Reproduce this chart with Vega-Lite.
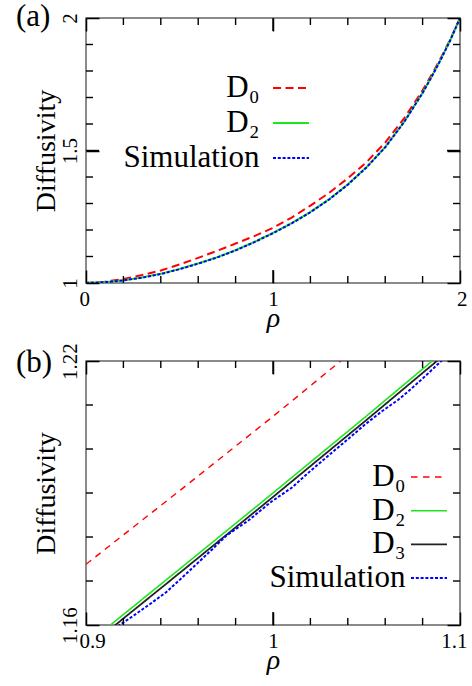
{
  "$schema": "https://vega.github.io/schema/vega-lite/v6.json",
  "background": "white",
  "padding": {"left": 15, "top": 0, "right": 0, "bottom": 0},
  "spacing": 8,
  "config": {
    "font": "Liberation Serif",
    "view": {"stroke": "#666666", "strokeWidth": 1.5},
    "axis": {
      "domain": false, "grid": false,
      "labelFont": "Liberation Serif", "labelFontSize": 21, "labelColor": "#000000",
      "titleFont": "Liberation Serif", "titleFontWeight": "normal", "titleColor": "#000000",
      "tickColor": "#000000", "tickWidth": 1.5,
      "labelFlush": true, "labelFlushOffset": 7, "labelOverlap": false
    },
    "legend": {
      "labelFont": "Liberation Serif", "labelFontSize": 31, "labelColor": "#000000",
      "labelAlign": "right", "labelLimit": 300,
      "symbolType": "M-3,0H3", "symbolSize": 144, "symbolStrokeWidth": 2,
      "padding": 0
    }
  },
  "vconcat": [
    {
      "width": 374, "height": 265,
      "title": {"text": "(a)", "anchor": "start", "frame": "group", "offset": -20.5, "dx": -70, "fontSize": 31, "fontWeight": "normal", "font": "Liberation Serif", "color": "#000000"},
      "data": {"values": [
        {"series": "D₀", "rho": 0, "D": 1.000}, {"series": "D₀", "rho": 0.1, "D": 1.005}, {"series": "D₀", "rho": 0.2, "D": 1.015},
        {"series": "D₀", "rho": 0.3, "D": 1.030}, {"series": "D₀", "rho": 0.4, "D": 1.047}, {"series": "D₀", "rho": 0.5, "D": 1.070},
        {"series": "D₀", "rho": 0.6, "D": 1.095}, {"series": "D₀", "rho": 0.7, "D": 1.121}, {"series": "D₀", "rho": 0.8, "D": 1.149},
        {"series": "D₀", "rho": 0.9, "D": 1.177}, {"series": "D₀", "rho": 1.0, "D": 1.208}, {"series": "D₀", "rho": 1.1, "D": 1.247},
        {"series": "D₀", "rho": 1.2, "D": 1.292}, {"series": "D₀", "rho": 1.3, "D": 1.340}, {"series": "D₀", "rho": 1.4, "D": 1.395},
        {"series": "D₀", "rho": 1.5, "D": 1.456}, {"series": "D₀", "rho": 1.6, "D": 1.530}, {"series": "D₀", "rho": 1.7, "D": 1.620},
        {"series": "D₀", "rho": 1.8, "D": 1.727}, {"series": "D₀", "rho": 1.85, "D": 1.788}, {"series": "D₀", "rho": 1.9, "D": 1.853},
        {"series": "D₀", "rho": 1.95, "D": 1.922}, {"series": "D₀", "rho": 2.0, "D": 2.000},
        {"series": "D₂", "rho": 0, "D": 1.000}, {"series": "D₂", "rho": 0.1, "D": 1.003}, {"series": "D₂", "rho": 0.2, "D": 1.010},
        {"series": "D₂", "rho": 0.3, "D": 1.021}, {"series": "D₂", "rho": 0.4, "D": 1.035}, {"series": "D₂", "rho": 0.5, "D": 1.053},
        {"series": "D₂", "rho": 0.6, "D": 1.074}, {"series": "D₂", "rho": 0.7, "D": 1.097}, {"series": "D₂", "rho": 0.8, "D": 1.124},
        {"series": "D₂", "rho": 0.9, "D": 1.155}, {"series": "D₂", "rho": 1.0, "D": 1.189}, {"series": "D₂", "rho": 1.1, "D": 1.226},
        {"series": "D₂", "rho": 1.2, "D": 1.268}, {"series": "D₂", "rho": 1.3, "D": 1.316}, {"series": "D₂", "rho": 1.4, "D": 1.372},
        {"series": "D₂", "rho": 1.5, "D": 1.437}, {"series": "D₂", "rho": 1.6, "D": 1.513}, {"series": "D₂", "rho": 1.7, "D": 1.607},
        {"series": "D₂", "rho": 1.8, "D": 1.718}, {"series": "D₂", "rho": 1.85, "D": 1.781}, {"series": "D₂", "rho": 1.9, "D": 1.848},
        {"series": "D₂", "rho": 1.95, "D": 1.920}, {"series": "D₂", "rho": 2.0, "D": 2.000},
        {"series": "Simulation", "rho": 0, "D": 1.000}, {"series": "Simulation", "rho": 0.1, "D": 1.003}, {"series": "Simulation", "rho": 0.2, "D": 1.010},
        {"series": "Simulation", "rho": 0.3, "D": 1.020}, {"series": "Simulation", "rho": 0.4, "D": 1.034}, {"series": "Simulation", "rho": 0.5, "D": 1.052},
        {"series": "Simulation", "rho": 0.6, "D": 1.073}, {"series": "Simulation", "rho": 0.7, "D": 1.096}, {"series": "Simulation", "rho": 0.8, "D": 1.123},
        {"series": "Simulation", "rho": 0.9, "D": 1.154}, {"series": "Simulation", "rho": 1.0, "D": 1.188}, {"series": "Simulation", "rho": 1.1, "D": 1.225},
        {"series": "Simulation", "rho": 1.2, "D": 1.267}, {"series": "Simulation", "rho": 1.3, "D": 1.315}, {"series": "Simulation", "rho": 1.4, "D": 1.371},
        {"series": "Simulation", "rho": 1.5, "D": 1.436}, {"series": "Simulation", "rho": 1.6, "D": 1.512}, {"series": "Simulation", "rho": 1.7, "D": 1.606},
        {"series": "Simulation", "rho": 1.8, "D": 1.717}, {"series": "Simulation", "rho": 1.85, "D": 1.780}, {"series": "Simulation", "rho": 1.9, "D": 1.847},
        {"series": "Simulation", "rho": 1.95, "D": 1.919}, {"series": "Simulation", "rho": 2.0, "D": 2.000}
      ]},
      "layer": [
        {
          "mark": {"type": "line", "clip": true},
          "encoding": {
            "x": {"field": "rho", "type": "quantitative", "scale": {"domain": [0, 2], "nice": false, "zero": false},
              "axis": {"orient": "bottom", "values": [0, 1, 2], "tickSize": 13, "offset": -13, "zindex": 2, "labelOverlap": false,
                "labelExpr": "datum.value == 0 ? '0' : datum.value == 1 ? '1' : '2'",
                "labelPadding": 5, "title": "ρ", "titleFontSize": 28, "titleFontStyle": "italic", "titlePadding": -5}},
            "y": {"field": "D", "type": "quantitative", "scale": {"domain": [1, 2], "nice": false, "zero": false},
              "axis": {"orient": "left", "values": [1, 1.5, 2], "tickSize": 13, "offset": -13, "zindex": 2, "labelOverlap": false,
                "labelExpr": "datum.value == 1 ? '1' : datum.value == 1.5 ? '1.5' : '2'",
                "labelAngle": 270, "labelAlign": "center", "labelBaseline": "alphabetic", "labelPadding": 10,
                "title": "Diffusivity", "titleFontSize": 28, "titlePadding": -1}},
            "color": {"field": "series", "type": "nominal",
              "scale": {"domain": ["D₀", "D₂", "Simulation"], "range": ["#ff0000", "#1ee61e", "#0000ff"]},
              "legend": {"title": null, "orient": "none", "legendX": 189.5, "legendY": 54.5, "rowPadding": 3, "labelOffset": -47}},
            "strokeDash": {"field": "series", "type": "nominal",
              "scale": {"domain": ["D₀", "D₂", "Simulation"], "range": [[8, 4.5], [1, 0], [3, 1.8]]},
              "legend": {"title": null, "orient": "none", "legendX": 189.5, "legendY": 54.5, "rowPadding": 3, "labelOffset": -47}},
            "strokeWidth": {"field": "series", "type": "nominal",
              "scale": {"domain": ["D₀", "D₂", "Simulation"], "range": [2, 2, 2]},
              "legend": {"title": null, "orient": "none", "legendX": 189.5, "legendY": 54.5, "rowPadding": 3, "labelOffset": -47}}
          }
        },
        {
          "mark": {"type": "point", "opacity": 0, "clip": true},
          "encoding": {
            "x": {"field": "rho", "type": "quantitative", "scale": {"domain": [0, 2], "nice": false, "zero": false},
              "axis": {"orient": "top", "values": [0, 1, 2], "labels": false, "title": null, "tickSize": 13, "offset": -13, "zindex": 2}},
            "y": {"field": "D", "type": "quantitative", "scale": {"domain": [1, 2], "nice": false, "zero": false},
              "axis": {"orient": "right", "values": [1, 1.5, 2], "labels": false, "title": null, "tickSize": 13, "offset": -13, "zindex": 2}}
          }
        },
        {
          "data": {"values": [
            {"v": 0.2, "k": "minor"}, {"v": 0.4, "k": "minor"}, {"v": 0.6, "k": "minor"}, {"v": 0.8, "k": "minor"}, {"v": 1, "k": "major"},
            {"v": 1.2, "k": "minor"}, {"v": 1.4, "k": "minor"}, {"v": 1.6, "k": "minor"}, {"v": 1.8, "k": "minor"}
          ]},
          "layer": [
            {
              "mark": {"type": "tick", "orient": "vertical", "clip": true, "thickness": 1.4, "color": "#000000", "opacity": 1},
              "encoding": {
                "x": {"field": "v", "type": "quantitative", "scale": {"domain": [0, 2], "nice": false, "zero": false}, "axis": null},
                "y": {"datum": 1, "type": "quantitative", "scale": {"domain": [1, 2], "nice": false, "zero": false}, "axis": null},
                "size": {"field": "k", "type": "ordinal", "scale": {"domain": ["major", "minor"], "range": [26, 14]}, "legend": null}
              }
            },
            {
              "mark": {"type": "tick", "orient": "vertical", "clip": true, "thickness": 1.4, "color": "#000000", "opacity": 1},
              "encoding": {
                "x": {"field": "v", "type": "quantitative", "scale": {"domain": [0, 2], "nice": false, "zero": false}, "axis": null},
                "y": {"datum": 2, "type": "quantitative", "scale": {"domain": [1, 2], "nice": false, "zero": false}, "axis": null},
                "size": {"field": "k", "type": "ordinal", "scale": {"domain": ["major", "minor"], "range": [26, 14]}, "legend": null}
              }
            }
          ]
        },
        {
          "data": {"values": [
            {"v": 1.1, "k": "minor"}, {"v": 1.2, "k": "minor"}, {"v": 1.3, "k": "minor"}, {"v": 1.4, "k": "minor"}, {"v": 1.5, "k": "major"},
            {"v": 1.6, "k": "minor"}, {"v": 1.7, "k": "minor"}, {"v": 1.8, "k": "minor"}, {"v": 1.9, "k": "minor"}
          ]},
          "layer": [
            {
              "mark": {"type": "tick", "orient": "horizontal", "clip": true, "thickness": 1.4, "color": "#000000", "opacity": 1},
              "encoding": {
                "y": {"field": "v", "type": "quantitative", "scale": {"domain": [1, 2], "nice": false, "zero": false}, "axis": null},
                "x": {"datum": 0, "type": "quantitative", "scale": {"domain": [0, 2], "nice": false, "zero": false}, "axis": null},
                "size": {"field": "k", "type": "ordinal", "scale": {"domain": ["major", "minor"], "range": [26, 14]}, "legend": null}
              }
            },
            {
              "mark": {"type": "tick", "orient": "horizontal", "clip": true, "thickness": 1.4, "color": "#000000", "opacity": 1},
              "encoding": {
                "y": {"field": "v", "type": "quantitative", "scale": {"domain": [1, 2], "nice": false, "zero": false}, "axis": null},
                "x": {"datum": 2, "type": "quantitative", "scale": {"domain": [0, 2], "nice": false, "zero": false}, "axis": null},
                "size": {"field": "k", "type": "ordinal", "scale": {"domain": ["major", "minor"], "range": [26, 14]}, "legend": null}
              }
            }
          ]
        }
      ],
      "resolve": {"axis": {"x": "independent", "y": "independent"}}
    },
    {
      "width": 374, "height": 264,
      "title": {"text": "(b)", "anchor": "start", "frame": "group", "offset": -36.5, "dx": -70, "fontSize": 31, "fontWeight": "normal", "font": "Liberation Serif", "color": "#000000"},
      "data": {"values": [
        {"series": "D₀", "rho": 0.9, "D": 1.1738}, {"series": "D₀", "rho": 0.95, "D": 1.1905}, {"series": "D₀", "rho": 1.0, "D": 1.2074},
        {"series": "D₀", "rho": 1.05, "D": 1.2248}, {"series": "D₀", "rho": 1.1, "D": 1.2425},
        {"series": "D₂", "rho": 0.9, "D": 1.1555}, {"series": "D₂", "rho": 0.95, "D": 1.1727}, {"series": "D₂", "rho": 1.0, "D": 1.1900},
        {"series": "D₂", "rho": 1.05, "D": 1.2075}, {"series": "D₂", "rho": 1.1, "D": 1.2253},
        {"series": "D₃", "rho": 0.9, "D": 1.1546}, {"series": "D₃", "rho": 0.95, "D": 1.1718}, {"series": "D₃", "rho": 1.0, "D": 1.1891},
        {"series": "D₃", "rho": 1.05, "D": 1.2066}, {"series": "D₃", "rho": 1.1, "D": 1.2244},
        {"series": "Simulation", "rho": 0.905, "D": 1.1556}, {"series": "Simulation", "rho": 0.917, "D": 1.1597},
        {"series": "Simulation", "rho": 0.925, "D": 1.1620}, {"series": "Simulation", "rho": 0.935, "D": 1.1650},
        {"series": "Simulation", "rho": 0.943, "D": 1.1675}, {"series": "Simulation", "rho": 0.950, "D": 1.1702},
        {"series": "Simulation", "rho": 0.958, "D": 1.1734}, {"series": "Simulation", "rho": 0.967, "D": 1.1770},
        {"series": "Simulation", "rho": 0.975, "D": 1.1803}, {"series": "Simulation", "rho": 0.987, "D": 1.1838},
        {"series": "Simulation", "rho": 0.999, "D": 1.1880}, {"series": "Simulation", "rho": 1.010, "D": 1.1912},
        {"series": "Simulation", "rho": 1.020, "D": 1.1950}, {"series": "Simulation", "rho": 1.031, "D": 1.1990},
        {"series": "Simulation", "rho": 1.040, "D": 1.2022}, {"series": "Simulation", "rho": 1.049, "D": 1.2055},
        {"series": "Simulation", "rho": 1.058, "D": 1.2085}, {"series": "Simulation", "rho": 1.067, "D": 1.2112},
        {"series": "Simulation", "rho": 1.074, "D": 1.2137}, {"series": "Simulation", "rho": 1.083, "D": 1.2172},
        {"series": "Simulation", "rho": 1.090, "D": 1.2200}, {"series": "Simulation", "rho": 1.095, "D": 1.2219}
      ]},
      "layer": [
        {
          "mark": {"type": "line", "clip": true},
          "encoding": {
            "x": {"field": "rho", "type": "quantitative", "scale": {"domain": [0.9, 1.1], "nice": false, "zero": false},
              "axis": {"orient": "bottom", "values": [0.9, 1, 1.1], "tickSize": 13, "offset": -13, "zindex": 2, "labelOverlap": false,
                "labelExpr": "datum.value == 0.9 ? '0.9' : datum.value == 1 ? '1' : '1.1'",
                "labelPadding": 5, "title": "ρ", "titleFontSize": 28, "titleFontStyle": "italic", "titlePadding": -5}},
            "y": {"field": "D", "type": "quantitative", "scale": {"domain": [1.16, 1.22], "nice": false, "zero": false},
              "axis": {"orient": "left", "values": [1.16, 1.22], "tickSize": 13, "offset": -13, "zindex": 2, "labelOverlap": false,
                "labelExpr": "datum.value == 1.16 ? '1.16' : '1.22'",
                "labelAngle": 270, "labelAlign": "center", "labelBaseline": "alphabetic", "labelPadding": 10,
                "title": "Diffusivity", "titleFontSize": 28, "titlePadding": -1}},
            "color": {"field": "series", "type": "nominal",
              "scale": {"domain": ["D₀", "D₂", "D₃", "Simulation"], "range": ["#ff0000", "#1ee61e", "#222222", "#0000ff"]},
              "legend": {"title": null, "orient": "none", "legendX": 327.5, "legendY": 100.5, "rowPadding": 1.7, "labelOffset": -39}},
            "strokeDash": {"field": "series", "type": "nominal",
              "scale": {"domain": ["D₀", "D₂", "D₃", "Simulation"], "range": [[6.5, 5.5], [1, 0], [1, 0], [3, 1.8]]},
              "legend": {"title": null, "orient": "none", "legendX": 327.5, "legendY": 100.5, "rowPadding": 1.7, "labelOffset": -39}},
            "strokeWidth": {"field": "series", "type": "nominal",
              "scale": {"domain": ["D₀", "D₂", "D₃", "Simulation"], "range": [1.4, 2, 1, 2]},
              "legend": {"title": null, "orient": "none", "legendX": 327.5, "legendY": 100.5, "rowPadding": 1.7, "labelOffset": -39}}
          }
        },
        {
          "mark": {"type": "point", "opacity": 0, "clip": true},
          "encoding": {
            "x": {"field": "rho", "type": "quantitative", "scale": {"domain": [0.9, 1.1], "nice": false, "zero": false},
              "axis": {"orient": "top", "values": [0.9, 1, 1.1], "labels": false, "title": null, "tickSize": 13, "offset": -13, "zindex": 2}},
            "y": {"field": "D", "type": "quantitative", "scale": {"domain": [1.16, 1.22], "nice": false, "zero": false},
              "axis": {"orient": "right", "values": [1.16, 1.22], "labels": false, "title": null, "tickSize": 13, "offset": -13, "zindex": 2}}
          }
        },
        {
          "data": {"values": [
            {"v": 0.92, "k": "minor"}, {"v": 0.94, "k": "minor"}, {"v": 0.96, "k": "minor"}, {"v": 0.98, "k": "minor"}, {"v": 1, "k": "major"},
            {"v": 1.02, "k": "minor"}, {"v": 1.04, "k": "minor"}, {"v": 1.06, "k": "minor"}, {"v": 1.08, "k": "minor"}
          ]},
          "layer": [
            {
              "mark": {"type": "tick", "orient": "vertical", "clip": true, "thickness": 1.4, "color": "#000000", "opacity": 1},
              "encoding": {
                "x": {"field": "v", "type": "quantitative", "scale": {"domain": [0.9, 1.1], "nice": false, "zero": false}, "axis": null},
                "y": {"datum": 1.16, "type": "quantitative", "scale": {"domain": [1.16, 1.22], "nice": false, "zero": false}, "axis": null},
                "size": {"field": "k", "type": "ordinal", "scale": {"domain": ["major", "minor"], "range": [26, 14]}, "legend": null}
              }
            },
            {
              "mark": {"type": "tick", "orient": "vertical", "clip": true, "thickness": 1.4, "color": "#000000", "opacity": 1},
              "encoding": {
                "x": {"field": "v", "type": "quantitative", "scale": {"domain": [0.9, 1.1], "nice": false, "zero": false}, "axis": null},
                "y": {"datum": 1.22, "type": "quantitative", "scale": {"domain": [1.16, 1.22], "nice": false, "zero": false}, "axis": null},
                "size": {"field": "k", "type": "ordinal", "scale": {"domain": ["major", "minor"], "range": [26, 14]}, "legend": null}
              }
            }
          ]
        },
        {
          "data": {"values": [
            {"v": 1.17, "k": "minor"}, {"v": 1.18, "k": "minor"}, {"v": 1.19, "k": "minor"}, {"v": 1.2, "k": "minor"}, {"v": 1.21, "k": "minor"}
          ]},
          "layer": [
            {
              "mark": {"type": "tick", "orient": "horizontal", "clip": true, "thickness": 1.4, "color": "#000000", "opacity": 1},
              "encoding": {
                "y": {"field": "v", "type": "quantitative", "scale": {"domain": [1.16, 1.22], "nice": false, "zero": false}, "axis": null},
                "x": {"datum": 0.9, "type": "quantitative", "scale": {"domain": [0.9, 1.1], "nice": false, "zero": false}, "axis": null},
                "size": {"field": "k", "type": "ordinal", "scale": {"domain": ["major", "minor"], "range": [26, 14]}, "legend": null}
              }
            },
            {
              "mark": {"type": "tick", "orient": "horizontal", "clip": true, "thickness": 1.4, "color": "#000000", "opacity": 1},
              "encoding": {
                "y": {"field": "v", "type": "quantitative", "scale": {"domain": [1.16, 1.22], "nice": false, "zero": false}, "axis": null},
                "x": {"datum": 1.1, "type": "quantitative", "scale": {"domain": [0.9, 1.1], "nice": false, "zero": false}, "axis": null},
                "size": {"field": "k", "type": "ordinal", "scale": {"domain": ["major", "minor"], "range": [26, 14]}, "legend": null}
              }
            }
          ]
        }
      ],
      "resolve": {"axis": {"x": "independent", "y": "independent"}}
    }
  ],
  "resolve": {
    "scale": {"color": "independent", "strokeDash": "independent", "strokeWidth": "independent", "size": "independent"},
    "legend": {"color": "independent", "strokeDash": "independent", "strokeWidth": "independent", "size": "independent"}
  }
}
